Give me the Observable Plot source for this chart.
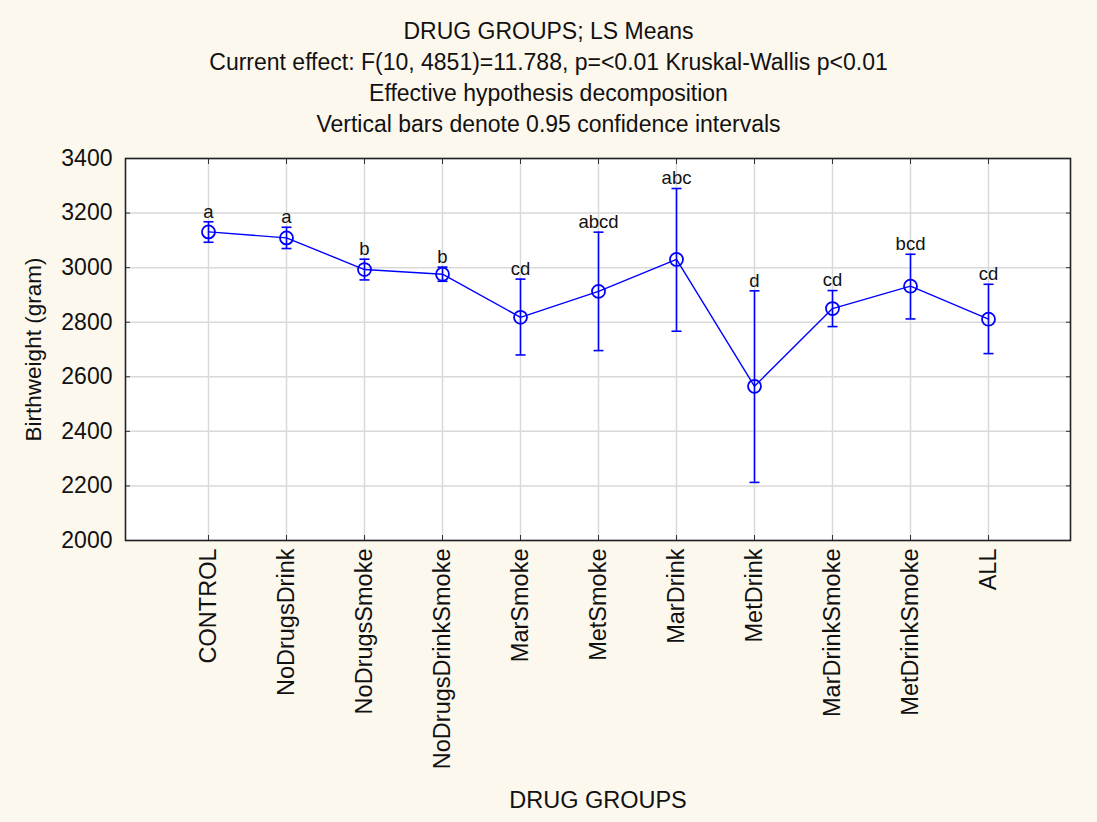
<!DOCTYPE html>
<html>
<head>
<meta charset="utf-8">
<script src="https://cdn.jsdelivr.net/npm/d3@7"></script>
<script src="https://cdn.jsdelivr.net/npm/@observablehq/plot@0.6"></script>
<style>
  html, body { margin: 0; padding: 0; background: #fdf8ee; }
  #wrap { width: 1097px; height: 822px; background: #fdf8ee; font-family: "Liberation Sans", Arial, sans-serif; }
  #title { height: 124px; padding-top: 16px; text-align: center; font-size: 23px; line-height: 31px; color: #111; }
</style>
</head>
<body>
<div id="wrap">
  <div id="title">
    <div>DRUG GROUPS; LS Means</div>
    <div>Current effect: F(10, 4851)=11.788, p=&lt;0.01 Kruskal-Wallis p&lt;0.01</div>
    <div>Effective hypothesis decomposition</div>
    <div>Vertical bars denote 0.95 confidence intervals</div>
  </div>
  <div id="chart"></div>
</div>
<script>
const groups = ["CONTROL","NoDrugsDrink","NoDrugsSmoke","NoDrugsDrinkSmoke","MarSmoke","MetSmoke","MarDrink","MetDrink","MarDrinkSmoke","MetDrinkSmoke","ALL"];
const means  = [3131, 3109, 2993, 2976, 2818, 2913, 3030, 2565, 2850, 2932, 2811];
const lower  = [3093, 3070, 2955, 2950, 2680, 2696, 2767, 2213, 2784, 2812, 2685];
const upper  = [3168, 3148, 3031, 3002, 2958, 3130, 3290, 2915, 2916, 3049, 2939];
const letters = ["a","a","b","b","cd","abcd","abc","d","cd","bcd","cd"];
const yTicks = [2000, 2200, 2400, 2600, 2800, 3000, 3200, 3400];

const data = groups.map((g, i) => ({group: g, mean: means[i], lo: lower[i], hi: upper[i], label: letters[i]}));
const blue = "#0000ff";
const capSymbol = { draw(ctx) { ctx.moveTo(-5, 0); ctx.lineTo(5, 0); } };

const chart = Plot.plot({
  width: 1097,
  height: 682,
  marginTop: 18,
  marginBottom: 282,
  marginLeft: 125,
  marginRight: 27,
  style: { background: "transparent", fontFamily: "Liberation Sans, Arial, sans-serif", fontSize: "22px", color: "#111" },
  x: { type: "point", domain: groups, padding: 1, label: null },
  y: { domain: [2000, 3400], ticks: yTicks, label: null, tickFormat: d3.format("d") },
  marks: [
    Plot.frame({ fill: "white" }),
    Plot.gridX({ stroke: "#d9d9d9", strokeOpacity: 1, strokeWidth: 1.5 }),
    Plot.gridY(yTicks, { stroke: "#d9d9d9", strokeOpacity: 1, strokeWidth: 1.5 }),
    Plot.axisY(yTicks, { anchor: "left", tickSize: 0, tickPadding: 13, fontSize: 23, tickFormat: d3.format("d") }),
    Plot.axisY(yTicks, { anchor: "left", tickSize: -5, text: null, stroke: "#333" }),
    Plot.axisY(yTicks, { anchor: "right", tickSize: -5, text: null, stroke: "#333" }),
    Plot.axisX({ anchor: "bottom", tickSize: 0, tickRotate: -90, tickPadding: 8, fontSize: 23.5 }),
    Plot.axisX({ anchor: "bottom", tickSize: -5, text: null, stroke: "#333" }),
    Plot.axisX({ anchor: "top", tickSize: -5, text: null, stroke: "#333" }),
    Plot.frame({ stroke: "#222", strokeWidth: 1.6 }),
    Plot.text(["Birthweight (gram)"], { frameAnchor: "left", textAnchor: "middle", rotate: -90, dx: -92, fontSize: 22.5 }),
    Plot.text(["DRUG GROUPS"], { frameAnchor: "bottom", dy: 267, fontSize: 23.5 }),
    Plot.ruleX(data, { x: "group", y1: "lo", y2: "hi", stroke: blue, strokeWidth: 1.6 }),
    Plot.dot(data, { x: "group", y: "lo", symbol: capSymbol, stroke: blue, strokeWidth: 1.6 }),
    Plot.dot(data, { x: "group", y: "hi", symbol: capSymbol, stroke: blue, strokeWidth: 1.6 }),
    Plot.line(data, { x: "group", y: "mean", stroke: blue, strokeWidth: 1.4 }),
    Plot.dot(data, { x: "group", y: "mean", r: 6.5, stroke: blue, fill: "none", strokeWidth: 1.8 }),
    Plot.text(data, { x: "group", y: "hi", text: "label", dy: -10, fontSize: 18.5, fill: "#111" })
  ]
});
document.getElementById("chart").appendChild(chart);
</script>
</body>
</html>
